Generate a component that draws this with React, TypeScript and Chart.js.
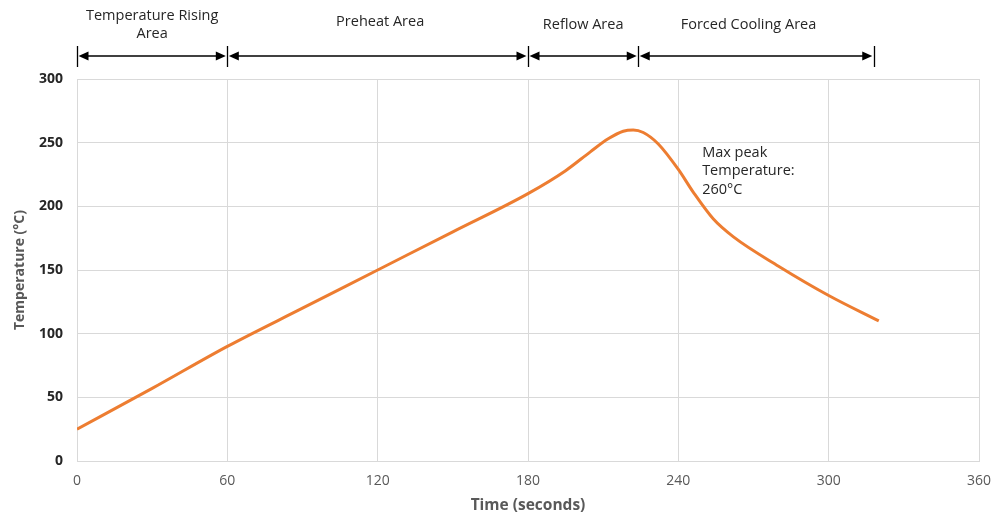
import React, { useEffect, useRef } from "react";
import { Chart, registerables } from "chart.js";

Chart.register(...registerables);

const times = [0, 30, 60, 90, 120, 150, 180, 195, 205, 212, 218, 222, 226, 232, 240, 246, 254, 262, 280, 300, 320];
const temps = [25, 57, 90, 120, 150, 180, 210, 228, 243, 253, 259, 260, 258, 249, 229, 211, 190, 176, 153, 130, 110];

const xTicks = [0, 60, 120, 180, 240, 300, 360];
const yTicks = [0, 50, 100, 150, 200, 250, 300];

const regionBounds = [0, 60, 180, 224, 318];
const regionLabels = [["Temperature Rising", "Area"], ["Preheat Area"], ["Reflow Area"], ["Forced Cooling Area"]];
const regionLabelAt = [30, 121, 202, 268];

const peakNote = ["Max peak", "Temperature:", "260°C"];
const peakNoteAt = { x: 249.5, y: 242 };

const FONT = "'Open Sans', 'Noto Sans', sans-serif";

const overlayPlugin = {
  id: "overlay",
  afterDraw(chart: any) {
    const ctx = chart.ctx;
    const xs = chart.scales.x;
    const ys = chart.scales.y;
    ctx.save();
    // region arrows
    const ay = 56;
    ctx.strokeStyle = "#000";
    ctx.fillStyle = "#000";
    ctx.lineWidth = 1.3;
    regionBounds.forEach((b) => {
      const px = Math.round(xs.getPixelForValue(b)) + 0.5;
      ctx.beginPath();
      ctx.moveTo(px, 46);
      ctx.lineTo(px, 67);
      ctx.stroke();
    });
    for (let i = 0; i < regionBounds.length - 1; i++) {
      const x1 = xs.getPixelForValue(regionBounds[i]) + 1.5;
      const x2 = xs.getPixelForValue(regionBounds[i + 1]) - 1.5;
      ctx.beginPath();
      ctx.moveTo(x1 + 4, ay);
      ctx.lineTo(x2 - 4, ay);
      ctx.stroke();
      const L = 10, H = 4.5;
      ctx.beginPath();
      ctx.moveTo(x1, ay);
      ctx.lineTo(x1 + L, ay - H);
      ctx.lineTo(x1 + L, ay + H);
      ctx.closePath();
      ctx.fill();
      ctx.beginPath();
      ctx.moveTo(x2, ay);
      ctx.lineTo(x2 - L, ay - H);
      ctx.lineTo(x2 - L, ay + H);
      ctx.closePath();
      ctx.fill();
    }
    // region labels
    ctx.font = `14.5px ${FONT}`;
    ctx.fillStyle = "#262626";
    ctx.textAlign = "center";
    ctx.textBaseline = "middle";
    regionLabels.forEach((lines, i) => {
      const cx = xs.getPixelForValue(regionLabelAt[i]);
      if (lines.length === 2) {
        ctx.fillText(lines[0], cx, 16);
        ctx.fillText(lines[1], cx, 34);
      } else {
        ctx.fillText(lines[0], cx, i === 1 ? 22 : 25);
      }
    });
    // peak note
    ctx.textAlign = "left";
    ctx.fillStyle = "#262626";
    const nx = xs.getPixelForValue(peakNoteAt.x);
    const ny = ys.getPixelForValue(peakNoteAt.y);
    peakNote.forEach((t, i) => ctx.fillText(t, nx, ny + i * 18.5));
    ctx.restore();
  },
};

export default function App() {
  const ref = useRef<HTMLCanvasElement>(null);
  useEffect(() => {
    document.body.style.margin = "0";
    const chart = new Chart(ref.current as HTMLCanvasElement, {
      type: "line",
      data: {
        datasets: [
          {
            data: times.map((t, i) => ({ x: t, y: temps[i] })),
            borderColor: "#ED7D31",
            borderWidth: 3,
            pointRadius: 0,
            cubicInterpolationMode: "monotone",
            fill: false,
          },
        ],
      },
      options: {
        responsive: false,
        animation: false,
        layout: { padding: { top: 79, right: 16, left: 0, bottom: 0 } },
        plugins: { legend: { display: false }, tooltip: { enabled: false } },
        scales: {
          x: {
            type: "linear",
            min: 0,
            max: 360,
            afterBuildTicks: (s: any) => {
              s.ticks = xTicks.map((v) => ({ value: v }));
            },
            afterFit: (s: any) => {
              s.height = 54;
              s.paddingLeft = 0;
              s.paddingRight = 0;
            },
            grid: { color: "#d9d9d9", drawTicks: false, lineWidth: 1 },
            border: { color: "#d9d9d9" },
            ticks: { color: "#595959", padding: 12, font: { family: FONT, size: 14 }, maxRotation: 0 },
            title: {
              display: true,
              text: "Time (seconds)",
              color: "#595959",
              font: { family: FONT, size: 15.5, weight: "bold" },
              padding: { top: 2, bottom: 0 },
            },
          },
          y: {
            min: 0,
            max: 300,
            afterBuildTicks: (s: any) => {
              s.ticks = yTicks.map((v) => ({ value: v }));
            },
            afterFit: (s: any) => {
              s.width = 77;
              s.paddingTop = 0;
              s.paddingBottom = 0;
            },
            grid: { color: "#d9d9d9", drawTicks: false, lineWidth: 1 },
            border: { color: "#d9d9d9" },
            ticks: { color: "#262626", padding: 14, font: { family: FONT, size: 14, weight: "bold" } },
            title: {
              display: true,
              text: "Temperature (°C)",
              color: "#595959",
              font: { family: FONT, size: 14, weight: "bold" },
              padding: { top: 12, bottom: 0 },
            },
          },
        },
      } as any,
      plugins: [overlayPlugin],
    });
    return () => chart.destroy();
  }, []);
  return (
    <div style={{ width: 995, height: 515, background: "#fff" }}>
      <canvas ref={ref} width={995} height={515} />
    </div>
  );
}
